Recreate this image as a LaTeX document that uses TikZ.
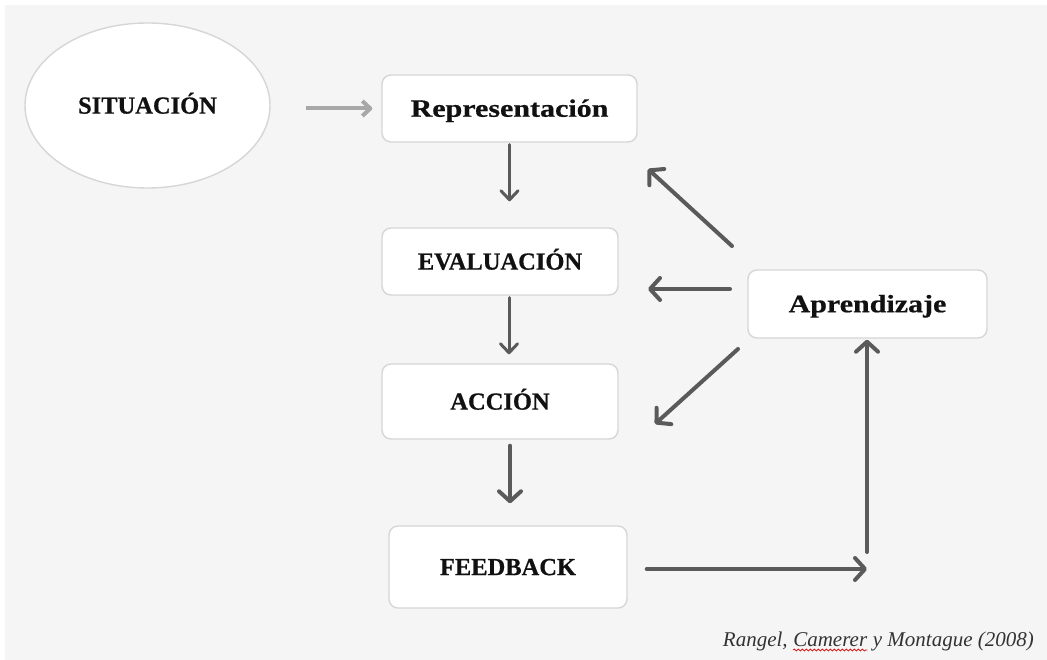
\documentclass[tikz,border=0pt]{standalone}
\usepackage{fontspec}
\setmainfont{Liberation Serif}[BoldFeatures={FakeBold=0.6}]
\newfontfamily\widefont{Liberation Serif}[FakeStretch=1.2,BoldFeatures={FakeBold=0.6}]
\usetikzlibrary{arrows.meta,shapes.geometric,decorations.pathmorphing}
\definecolor{bg}{HTML}{F5F5F5}
\definecolor{edge}{HTML}{D6D6D6}
\definecolor{arr}{HTML}{5A5A5A}
\definecolor{arrlight}{HTML}{A8A8A8}
\definecolor{ink}{HTML}{111111}
\definecolor{citeink}{HTML}{333333}
\begin{document}
\begin{tikzpicture}[x=1pt,y=-1pt,
  stepbox/.style={draw=edge, line width=1.4pt, fill=white, rounded corners=9pt,
    inner sep=0pt, text=ink, align=center,
    font=\fontsize{24.5}{24.5}\selectfont\bfseries,
    text height=19.5pt, text depth=3.3pt},
  widebox/.style={stepbox, font=\widefont\fontsize{25}{25}\selectfont\bfseries,
    text height=20pt, text depth=3.5pt},
  thinarrow/.style={draw=arr, line width=3pt, line cap=round, line join=round,
    -{Straight Barb[length=9pt,width=17pt,line cap=round,line join=round]}},
  thickarrow/.style={draw=arr, line width=4pt, line cap=round, line join=round,
    -{Straight Barb[length=10pt,width=22pt,line cap=round,line join=round]}},
  lightarrow/.style={draw=arrlight, line width=4pt,
    -{Straight Barb[length=8pt,width=15pt,line join=round]}},
  citation/.style={inner sep=0pt, text=citeink, font=\fontsize{21}{21}\selectfont\itshape}
]
\useasboundingbox (0,0) rectangle (1047,660);
% page background
\fill[bg] (5,5) rectangle (1047,660);

% nodes
\node[ellipse, draw=edge, line width=1.4pt, fill=white, inner sep=0pt,
      minimum width=245pt, minimum height=165pt, text=ink,
      font=\fontsize{24.5}{24.5}\selectfont\bfseries,
      text height=19.5pt, text depth=3.3pt] (sit) at (147.5,105.5) {SITUACIÓN};
\node[widebox, minimum width=255pt, minimum height=67pt] (repr) at (509.5,108.5) {Representación};
\node[stepbox, minimum width=236pt, minimum height=67pt] (eval) at (500,261.5) {EVALUACIÓN};
\node[stepbox, minimum width=236pt, minimum height=75pt] (acc) at (500,401.5) {ACCIÓN};
\node[stepbox, minimum width=238pt, minimum height=82pt] (fb) at (508,567) {FEEDBACK};
\node[widebox, minimum width=239pt, minimum height=68pt] (apr) at (867.5,304) {Aprendizaje};

% free ends of the feedback loop
\coordinate (corner) at (867,569);
\coordinate (toReprS) at (732,246);
\coordinate (toReprE) at (648,169);
\coordinate (toEvalS) at (730,289);
\coordinate (toEvalE) at (648,289);
\coordinate (toAccS) at (738,349);
\coordinate (toAccE) at (655,424);

% main chain
\draw[lightarrow, shorten <=35pt, shorten >=9pt] (sit.east |- repr.west) -- (repr.west);
\draw[thinarrow, shorten <=2pt, shorten >=26pt] (repr.south) -- (repr.south |- eval.north);
\draw[thinarrow, shorten <=2pt, shorten >=9pt] ([xshift=9pt]eval.south) -- ([xshift=9pt]eval.south |- acc.north);
\draw[thickarrow, shorten <=6pt, shorten >=22pt] ([xshift=10pt]acc.south) -- ([xshift=10pt]acc.south |- fb.north);

% learning loop
\draw[thickarrow, shorten <=19pt] (fb.east |- corner) -- (corner);
\draw[thickarrow, shorten <=17pt, shorten >=1pt] (corner) -- (corner |- apr.south);
\draw[thickarrow] (toReprS) -- (toReprE);
\draw[thickarrow] (toEvalS) -- (toEvalE);
\draw[thickarrow] (toAccS) -- (toAccE);

% source
\node[citation, anchor=base east] (cit3) at (1034,646) {\ y Montague (2008)};
\node[citation, anchor=base east] (cit2) at (cit3.base west) {Camerer};
\node[citation, anchor=base east] (cit1) at (cit2.base west) {Rangel,\ \null};
\draw[red!85!black, line width=0.7pt, decorate,
      decoration={snake, amplitude=1pt, segment length=4pt}]
  ([yshift=-4pt]cit2.base west) -- ([yshift=-4pt]cit2.base east);
\end{tikzpicture}
\end{document}
